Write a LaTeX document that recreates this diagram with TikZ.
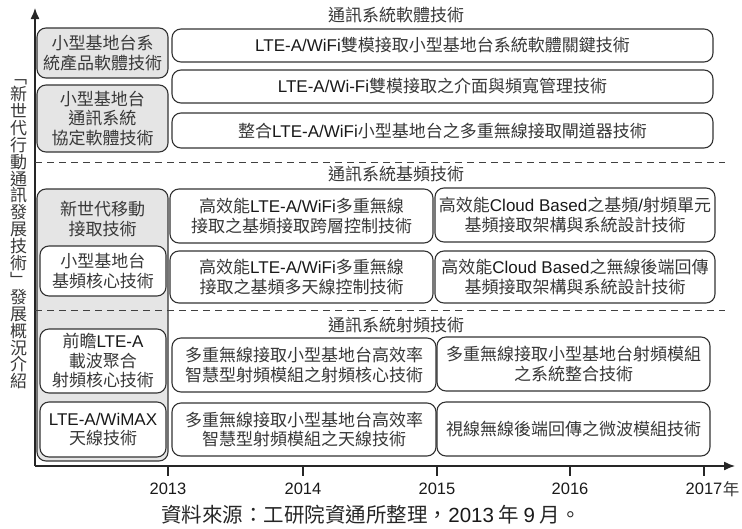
\documentclass[tikz,border=0pt]{standalone}
\usepackage{fontspec}
\setmainfont{Liberation Sans}
\newfontfamily\cjk{Noto Sans CJK TC}
\newfontfamily\latf{Liberation Sans}
\usetikzlibrary{arrows.meta}
\definecolor{latcol}{gray}{0.1}
\newcommand{\La}[1]{{\latf\color{latcol}#1}}
\newcommand{\vtfont}{\cjk\fontsize{17}{16.9}\selectfont\lineskiplimit=-20pt\relax}
\begin{document}
\begin{tikzpicture}[x=1pt,y=-1pt,
  rbox/.style={draw=black!80, line width=1.1pt, rounded corners=9pt, fill=white, inner sep=0pt, align=center, font=\cjk\fontsize{17}{19.5}\selectfont, text=black!78},
  gbox/.style={rbox, fill=black!10},
  ttl/.style={font=\cjk\fontsize{17}{19.5}\selectfont, text=black!78, inner sep=0pt, align=center},
  yr/.style={font=\latf\fontsize{16.5}{18}\selectfont, text=black!90, inner sep=0pt},
  sepline/.style={draw=black!75, line width=1pt, dash pattern=on 7pt off 5pt},
  axisline/.style={draw=black!85, line width=1.3pt},
]
\useasboundingbox (0,0) rectangle (742,528);

% axes
\coordinate (O) at (35,466);
\coordinate (ytop) at (35,8);
\coordinate (xend) at (735,466);
\draw[axisline, -{Latex[length=11pt,width=9pt]}] (O) -- (ytop);
\draw[axisline, -{Latex[length=11pt,width=9pt]}] (O) -- (xend);

% vertical label
\node[font=\vtfont, align=center, inner sep=0pt, text=black!78] (vt) at (18.5,234.5)
 {﹁\\新\\世\\代\\行\\動\\通\\訊\\發\\展\\技\\術\\﹂\\發\\展\\概\\況\\介\\紹};

% section titles
\node[ttl] (t1) at (396,15) {通訊系統軟體技術};
\node[ttl] (t2) at (396,174) {通訊系統基頻技術};
\node[ttl] (t3) at (396,325) {通訊系統射頻技術};

% left column
\node[gbox, minimum width=131pt, minimum height=50pt] (a) at (102.5,53) {小型基地台系\\統產品軟體技術};
\node[gbox, minimum width=131pt, minimum height=67pt] (b) at (102.5,118.5) {小型基地台\\通訊系統\\協定軟體技術};
\node[gbox, minimum width=131pt, minimum height=272pt] (g) at (102.5,325) {};
\node[ttl] (gt) at (102.5,219) {新世代移動\\接取技術};
\node[rbox, minimum width=126pt, minimum height=50pt] (c) at (103,271) {小型基地台\\基頻核心技術};
\node[rbox, minimum width=126pt, minimum height=64pt] (d) at (103,361) {前瞻\La{LTE-A}\\載波聚合\\射頻核心技術};
\node[rbox, minimum width=126pt, minimum height=55pt] (e) at (103,429.5) {\La{LTE-A/WiMAX}\\天線技術};

% separators
\coordinate (s1a) at (35,162); \coordinate (s1b) at (725,162);
\coordinate (s2a) at (35,310); \coordinate (s2b) at (725,310);
\draw[sepline] (s1a) -- (s1b);
\draw[sepline] (s2a) -- (s2b);

% right column, software
\node[rbox, minimum width=541pt, minimum height=33pt] (r1) at (442.5,45.5) {\La{LTE-A/WiFi}雙模接取小型基地台系統軟體關鍵技術};
\node[rbox, minimum width=541pt, minimum height=33pt] (r2) at (442.5,86.5) {\La{LTE-A/Wi-Fi}雙模接取之介面與頻寬管理技術};
\node[rbox, minimum width=541pt, minimum height=35pt] (r3) at (442.5,130.5) {整合\La{LTE-A/WiFi}小型基地台之多重無線接取閘道器技術};

% baseband
\node[rbox, minimum width=263pt, minimum height=54pt] (r4) at (301.5,216) {高效能\La{LTE-A/WiFi}多重無線\\接取之基頻接取跨層控制技術};
\node[rbox, minimum width=280pt, minimum height=54pt] (r5) at (575,215) {高效能\La{Cloud Based}之基頻\La{/}射頻單元\\基頻接取架構與系統設計技術};
\node[rbox, minimum width=263pt, minimum height=52pt] (r6) at (301.5,277) {高效能\La{LTE-A/WiFi}多重無線\\接取之基頻多天線控制技術};
\node[rbox, minimum width=280pt, minimum height=52pt] (r7) at (575,277) {高效能\La{Cloud Based}之無線後端回傳\\基頻接取架構與系統設計技術};

% RF
\node[rbox, minimum width=264pt, minimum height=54pt] (r8) at (304,365) {多重無線接取小型基地台高效率\\智慧型射頻模組之射頻核心技術};
\node[rbox, minimum width=273pt, minimum height=54pt] (r9) at (573.5,364) {多重無線接取小型基地台射頻模組\\之系統整合技術};
\node[rbox, minimum width=264pt, minimum height=53pt] (r10) at (304,429.5) {多重無線接取小型基地台高效率\\智慧型射頻模組之天線技術};
\node[rbox, minimum width=273pt, minimum height=54pt] (r11) at (573.5,429) {視線無線後端回傳之微波模組技術};

% ticks and years
\foreach \xx/\nm in {168/2013,303/2014,437/2015,570/2016,704/2017}{
  \draw[axisline, line width=1.1pt] (\xx,466) -- (\xx,476);
  \node[yr] (y\nm) at (\xx,489) {\nm};
}
\node[font=\cjk\fontsize{16.5}{18}\selectfont, text=black!78, inner sep=0pt, anchor=west] (nian) at (y2017.east) {年};

% caption
\node[font=\cjk\fontsize{20.5}{24}\selectfont, text=black!85, inner sep=0pt] (cap) at (371,515) {資料來源：工研院資通所整理，\La{2013} 年 \La{9} 月。};
\end{tikzpicture}
\end{document}
